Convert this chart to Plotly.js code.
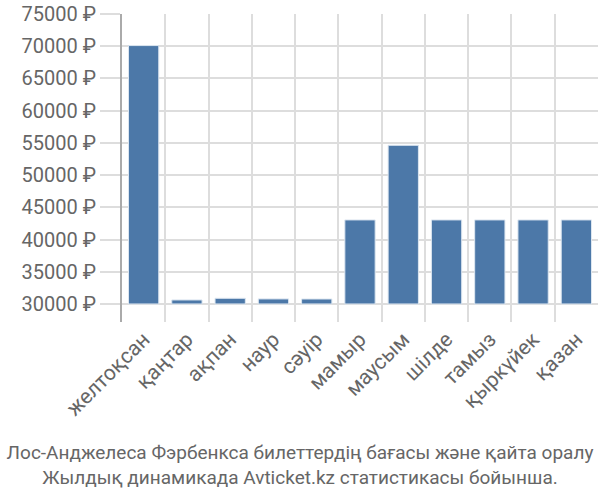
<!DOCTYPE html>
<html><head><meta charset="utf-8">
<script src="https://cdn.plot.ly/plotly-3.0.1.min.js"></script>
<style>body{margin:0;padding:0;}#chart{width:600px;height:500px;}</style>
</head><body><div id="chart"></div>
<script>
const months = ["желтоқсан","қаңтар","ақпан","наур","сәуір","мамыр","маусым","шілде","тамыз","қыркүйек","қазан"];
const prices = [70100, 30620, 30880, 30780, 30770, 43040, 54620, 43040, 43040, 43040, 43040];
const yTicks = [30000,35000,40000,45000,50000,55000,60000,65000,70000,75000];
const yTickLabels = yTicks.map(v => v + " ₽");
const titleLines = ["Лос-Анджелеса Фэрбенкса билеттердің бағасы және қайта оралу","Жылдық динамикада Avticket.kz статистикасы бойынша."];

Plotly.newPlot('chart', [{
  type: 'bar', x: months, y: prices.map(v => v - 30000), base: 30000,
  marker: {color: '#4c78a8', line: {color: '#dce6f0', width: 1}},
  hoverinfo: 'none'
}], {
  width: 600, height: 500,
  margin: {l: 122, r: 2, t: 14, b: 178},
  paper_bgcolor: '#fff', plot_bgcolor: '#fff',
  font: {family: 'Roboto, sans-serif', color: '#666'},
  bargap: 0.3,
  showlegend: false,
  xaxis: {
    type: 'category', tickson: 'boundaries', ticks: 'outside', ticklen: 0,
    showgrid: true, gridcolor: '#ddd', gridwidth: 2,
    tickangle: -45, tickfont: {size: 21, color: '#666'},
    showline: false, zeroline: false
  },
  yaxis: {
    range: [27200, 75000], tickvals: yTicks, ticktext: yTickLabels,
    ticks: 'outside', ticklen: 20, tickcolor: '#ddd', tickwidth: 2,
    showgrid: true, gridcolor: '#ddd', gridwidth: 2,
    showline: true, linecolor: '#aaa', linewidth: 2,
    tickfont: {size: 20, color: '#666'}, zeroline: false
  },
  title: {text: titleLines.join('<br>'), font: {size: 19, color: '#666'},
    x: 0.5, xanchor: 'center', y: 0.082, yref: 'container', yanchor: 'middle'}
}, {staticPlot: true});
</script></body></html>
